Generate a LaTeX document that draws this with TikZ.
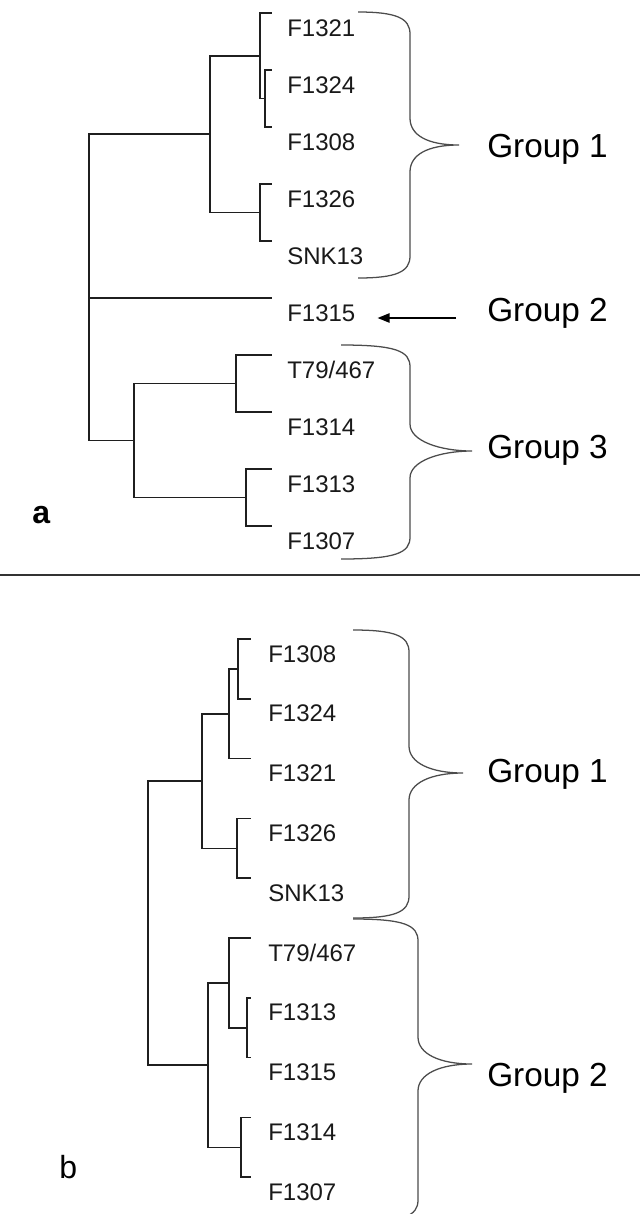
\documentclass[tikz,border=0pt]{standalone}
\usepackage{fontspec}
\setmainfont{Liberation Sans}
\usetikzlibrary{calc,arrows.meta}

% curly brace: #1 x of the two ends, #2 top y, #3 x of the spine,
% #4 y of the point, #5 x of the point, #6 bottom y
\newcommand{\grpbrace}[6]{%
  \draw[brace] (#1,#2) .. controls ({#3-14},#2) and (#3,{#2+6}) .. (#3,{#2+22})
    -- (#3,{#4-27}) .. controls (#3,{#4-10}) and ({#5-32},#4) .. (#5,#4)
    .. controls ({#5-32},#4) and (#3,{#4+10}) .. (#3,{#4+27})
    -- (#3,{#6-22}) .. controls (#3,{#6-6}) and ({#3-14},#6) .. (#1,#6);
}

\begin{document}
\begin{tikzpicture}[x=0.75pt,y=-0.75pt,
  branch/.style={line width=1.2pt, draw=black!88},
  leaf/.style={anchor=base west, inner sep=0pt, font=\fontsize{18}{20}\selectfont, text=black!90},
  grouplabel/.style={anchor=base west, inner sep=0pt, font=\fontsize{25}{28}\selectfont, text=black},
  brace/.style={line width=0.95pt, draw=black!70},
  pointer/.style={line width=1.1pt, draw=black, -{Triangle[length=9pt,width=7pt]}},
  panelletter/.style={anchor=base west, inner sep=0pt, font=\fontsize{24}{26}\selectfont}]

\path[use as bounding box, fill=white] (0,0) rectangle (640,1214);

% ---------------- panel a ----------------
\foreach \i/\y in {1/13,2/70,3/127,4/184,5/241,6/298,7/355,8/412,9/469,10/526}
  \coordinate (a-t\i) at (272,\y);

\node[leaf] (a-l1)  at (287,36)  {F1321};
\node[leaf] (a-l2)  at (287,93)  {F1324};
\node[leaf] (a-l3)  at (287,150) {F1308};
\node[leaf] (a-l4)  at (287,207) {F1326};
\node[leaf] (a-l5)  at (287,264) {SNK13};
\node[leaf] (a-l6)  at (287,321) {F1315};
\node[leaf] (a-l7)  at (287,378) {T79/467};
\node[leaf] (a-l8)  at (287,435) {F1314};
\node[leaf] (a-l9)  at (287,492) {F1313};
\node[leaf] (a-l10) at (287,549) {F1307};

\coordinate (a-A) at (265,98.5);
\coordinate (a-B) at (260,55.7);
\coordinate (a-C) at (260,212.5);
\coordinate (a-D) at (210,134);
\coordinate (a-E) at (236,383.5);
\coordinate (a-F) at (246,497.5);
\coordinate (a-G) at (134,440.5);
\coordinate (a-R) at (89,290);

\draw[branch] (a-A) |- (a-t2);  \draw[branch] (a-A) |- (a-t3);
\draw[branch] (a-B) |- (a-t1);  \draw[branch] (a-B) |- (a-A);
\draw[branch] (a-C) |- (a-t4);  \draw[branch] (a-C) |- (a-t5);
\draw[branch] (a-D) |- (a-B);   \draw[branch] (a-D) |- (a-C);
\draw[branch] (a-E) |- (a-t7);  \draw[branch] (a-E) |- (a-t8);
\draw[branch] (a-F) |- (a-t9);  \draw[branch] (a-F) |- (a-t10);
\draw[branch] (a-G) |- (a-E);   \draw[branch] (a-G) |- (a-F);
\draw[branch] (a-R) |- (a-D);   \draw[branch] (a-R) |- (a-t6);
\draw[branch] (a-R) |- (a-G);

\grpbrace{358}{12}{410}{145}{459}{278}
\grpbrace{341}{345}{410}{451}{472}{559}

\node[grouplabel] (a-g1) at (487,157) {Group 1};
\node[grouplabel] (a-g2) at (487,321) {Group 2};
\node[grouplabel] (a-g3) at (487,458) {Group 3};

\draw[pointer] ($(a-g2.base west)+(-31,-3)$) -- ($(a-l6.base east)+(22,-3)$);

\node[panelletter, font=\fontsize{24}{26}\selectfont\bfseries] (a-tag) at (32,523) {a};

% separator between the two panels
\draw[line width=1.5pt, draw=black!80] (0,575) -- (640,575);

% ---------------- panel b ----------------
\foreach \i/\y in {1/639,2/698.8,3/758.6,4/818.4,5/878.2,6/938,7/997.8,8/1057.6,9/1117.4,10/1177.2}
  \coordinate (b-t\i) at (251,\y);

\node[leaf] (b-l1)  at (268,662)    {F1308};
\node[leaf] (b-l2)  at (268,721.8)  {F1324};
\node[leaf] (b-l3)  at (268,781.6)  {F1321};
\node[leaf] (b-l4)  at (268,841.4)  {F1326};
\node[leaf] (b-l5)  at (268,901.2)  {SNK13};
\node[leaf] (b-l6)  at (268,961)    {T79/467};
\node[leaf] (b-l7)  at (268,1020.8) {F1313};
\node[leaf] (b-l8)  at (268,1080.6) {F1315};
\node[leaf] (b-l9)  at (268,1140.4) {F1314};
\node[leaf] (b-l10) at (268,1200.2) {F1307};

\coordinate (b-P) at (238,668.9);
\coordinate (b-Q) at (229,713.8);
\coordinate (b-R) at (237,848.3);
\coordinate (b-S) at (202,781);
\coordinate (b-T) at (247,1027.7);
\coordinate (b-U) at (229,982.9);
\coordinate (b-V) at (241,1147.3);
\coordinate (b-W) at (208,1065.1);
\coordinate (b-X) at (148,923);

\draw[branch] (b-P) |- (b-t1);  \draw[branch] (b-P) |- (b-t2);
\draw[branch] (b-Q) |- (b-P);   \draw[branch] (b-Q) |- (b-t3);
\draw[branch] (b-R) |- (b-t4);  \draw[branch] (b-R) |- (b-t5);
\draw[branch] (b-S) |- (b-Q);   \draw[branch] (b-S) |- (b-R);
\draw[branch] (b-T) |- (b-t7);  \draw[branch] (b-T) |- (b-t8);
\draw[branch] (b-U) |- (b-t6);  \draw[branch] (b-U) |- (b-T);
\draw[branch] (b-V) |- (b-t9);  \draw[branch] (b-V) |- (b-t10);
\draw[branch] (b-W) |- (b-U);   \draw[branch] (b-W) |- (b-V);
\draw[branch] (b-X) |- (b-S);   \draw[branch] (b-X) |- (b-W);

\grpbrace{353}{630}{409}{773}{463}{918}
\grpbrace{353}{919}{418}{1064}{472}{1222}

\node[grouplabel] (b-g1) at (487,782)  {Group 1};
\node[grouplabel] (b-g2) at (487,1086) {Group 2};

\node[panelletter] (b-tag) at (59,1178) {b};

\end{tikzpicture}
\end{document}
